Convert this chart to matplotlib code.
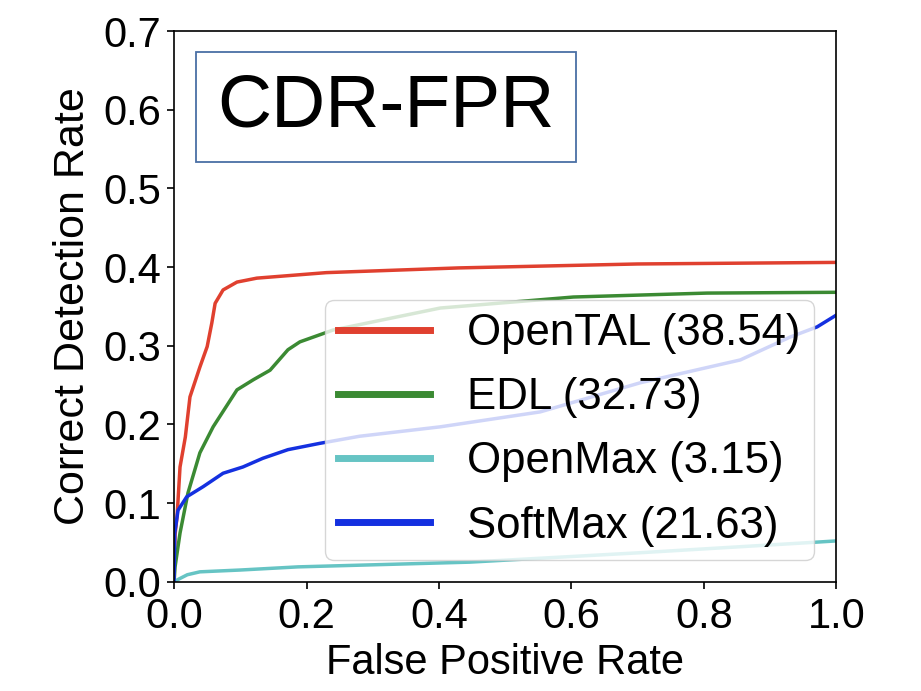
import matplotlib.pyplot as plt
from matplotlib.patches import Rectangle

plt.rcParams['font.family'] = ['Liberation Sans', 'DejaVu Sans']

# curves (FPR, CDR)
opental_x = [0.0, 0.0015, 0.0045, 0.009, 0.017, 0.024, 0.039, 0.05, 0.057, 0.062, 0.074, 0.095,
             0.125, 0.17, 0.23, 0.43, 0.7, 1.0]
opental_y = [0.0, 0.06, 0.083, 0.146, 0.184, 0.235, 0.273, 0.299, 0.329, 0.354, 0.371, 0.381,
             0.386, 0.389, 0.393, 0.399, 0.404, 0.406]

edl_x = [0.0, 0.0015, 0.009, 0.021, 0.039, 0.059, 0.095, 0.12, 0.145, 0.172, 0.19, 0.24,
         0.402, 0.603, 0.805, 1.0]
edl_y = [0.0, 0.019, 0.062, 0.113, 0.164, 0.197, 0.244, 0.257, 0.269, 0.295, 0.305, 0.32,
         0.348, 0.362, 0.367, 0.368]

openmax_x = [0.0, 0.006, 0.02, 0.039, 0.1, 0.187, 0.446, 0.704, 0.962, 1.0]
openmax_y = [0.0, 0.003, 0.009, 0.0127, 0.015, 0.019, 0.025, 0.037, 0.05, 0.052]

softmax_x = [0.0, 0.001, 0.006, 0.019, 0.044, 0.074, 0.104, 0.134, 0.172, 0.22, 0.28, 0.402,
             0.553, 0.704, 0.855, 0.93, 0.971, 1.0]
softmax_y = [0.0, 0.062, 0.091, 0.108, 0.121, 0.138, 0.146, 0.157, 0.168, 0.176, 0.185, 0.197,
             0.216, 0.253, 0.282, 0.311, 0.324, 0.339]

labels = ["OpenTAL (38.54)", "EDL (32.73)", "OpenMax (3.15)", "SoftMax (21.63)"]
colors = ["#e0402f", "#3b8a33", "#66c4c4", "#1430e0"]

fig = plt.figure(figsize=(9.21, 6.91), dpi=100)
ax = fig.add_axes([0.189, 0.158, 0.719, 0.797])

series = [(opental_x, opental_y), (edl_x, edl_y), (openmax_x, openmax_y), (softmax_x, softmax_y)]
for (xs, ys), lab, c in zip(series, labels, colors):
    ax.plot(xs, ys, color=c, lw=2.5, label=lab)

ax.set_xlim(0, 1.0)
ax.set_ylim(0, 0.7)
ax.set_xticks([0.0, 0.2, 0.4, 0.6, 0.8, 1.0])
ax.set_yticks([0.0, 0.1, 0.2, 0.3, 0.4, 0.5, 0.6, 0.7])
ax.tick_params(labelsize=30, length=5, width=1.2)
ax.tick_params(axis='x', pad=6)
ax.tick_params(axis='y', pad=4)
for s in ax.spines.values():
    s.set_linewidth(1.2)
ax.set_xlabel("False Positive Rate", fontsize=30, labelpad=4)
ax.set_ylabel("Correct Detection Rate", fontsize=31, labelpad=8)

leg = ax.legend(loc='lower left', bbox_to_anchor=(0.228, 0.04), fontsize=31.5,
                handlelength=2.1, handletextpad=0.85, labelspacing=0.53,
                framealpha=0.8, borderpad=0.3, borderaxespad=0)
for h in leg.get_lines():
    h.set_linewidth(5)

# title box
fig.patches.append(Rectangle((196 / 921, 1 - 162 / 691), 380 / 921, 110 / 691,
                             transform=fig.transFigure, fill=False,
                             edgecolor="#4a6fa5", lw=1.3))
fig.text(386 / 921, 1 - 107 / 691, "CDR-FPR", fontsize=54, ha='center', va='center')

fig.savefig("out.png", dpi=100)
